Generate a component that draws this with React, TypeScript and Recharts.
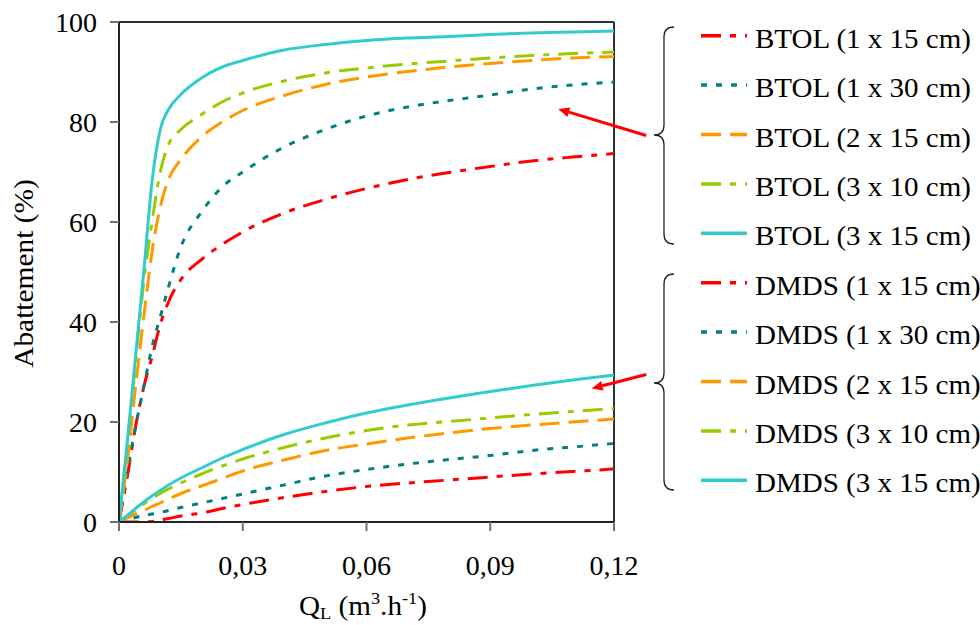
import React from 'react';
import { LineChart, Line, XAxis, YAxis, ReferenceLine } from 'recharts';

// ---- data ----
const qL = [0, 0.002, 0.004, 0.006, 0.008, 0.01, 0.012, 0.015, 0.02, 0.025, 0.03, 0.04, 0.05, 0.06, 0.07, 0.08, 0.09, 0.1, 0.11, 0.12];

const btol1x15 = [0, 9, 19, 27, 33, 39.5, 44, 48.5, 52.5, 55.5, 58, 61.8, 64.5, 66.7, 68.5, 69.9, 71.1, 72.2, 73, 73.7];
const btol1x30 = [0, 10, 19, 27, 35, 41, 47, 55, 62, 67, 70, 75, 78.5, 81.2, 83, 84.3, 85.4, 86.6, 87.4, 88];
const btol2x15 = [0, 12, 27, 41, 54, 63, 68.5, 72.5, 77, 80, 82.3, 85.3, 87.5, 89, 90.1, 91, 91.7, 92.3, 92.8, 93.1];
const btol3x10 = [0, 15, 32, 48, 60, 70, 75.5, 78.5, 81.5, 84, 85.8, 88.2, 89.8, 90.8, 91.6, 92.2, 92.8, 93.3, 93.7, 94];
const btol3x15 = [0, 16, 33, 50, 68, 78.5, 82.5, 85.5, 88.8, 91, 92.3, 94.4, 95.5, 96.3, 96.8, 97.1, 97.5, 97.8, 98, 98.2];

const dmds1x15 = [0, 0, 0, 0, 0.1, 0.4, 0.7, 1.2, 1.8, 2.7, 3.5, 4.9, 6.1, 7.1, 7.8, 8.4, 9, 9.6, 10.1, 10.6];
const dmds1x30 = [0, 0.5, 0.9, 1.3, 1.6, 1.9, 2.3, 2.9, 3.8, 4.7, 5.6, 7.4, 9.2, 10.5, 11.6, 12.5, 13.3, 14.3, 15, 15.7];
const dmds2x15 = [0, 0.8, 1.6, 2.3, 3.1, 3.8, 4.6, 5.7, 7.2, 8.7, 10.2, 12.4, 14.3, 15.6, 16.8, 17.8, 18.7, 19.4, 20, 20.6];
const dmds3x10 = [0, 1.2, 2.4, 3.6, 4.7, 5.7, 6.6, 7.8, 9.6, 11.2, 12.6, 14.9, 16.8, 18.3, 19.4, 20.1, 20.8, 21.5, 22.1, 22.7];
const dmds3x15 = [0, 1.3, 2.7, 4, 5.2, 6.3, 7.4, 8.8, 10.8, 12.8, 14.5, 17.5, 19.8, 21.8, 23.4, 24.8, 26.1, 27.3, 28.4, 29.4];

const seriesNames = [
  'BTOL (1 x 15 cm)',
  'BTOL (1 x 30 cm)',
  'BTOL (2 x 15 cm)',
  'BTOL (3 x 10 cm)',
  'BTOL (3 x 15 cm)',
  'DMDS (1 x 15 cm)',
  'DMDS (1 x 30 cm)',
  'DMDS (2 x 15 cm)',
  'DMDS (3 x 10 cm)',
  'DMDS (3 x 15 cm)',
];
const seriesValues = [btol1x15, btol1x30, btol2x15, btol3x10, btol3x15, dmds1x15, dmds1x30, dmds2x15, dmds3x10, dmds3x15];

const xTicks = [0, 0.03, 0.06, 0.09, 0.12];
const yTicks = [0, 20, 40, 60, 80, 100];

// annotation arrows (data coordinates: [tail, tip])
const arrowBTOL = [{ x: 0.1278, y: 77.3 }, { x: 0.1065, y: 82.6 }];
const arrowDMDS = [{ x: 0.1278, y: 29.5 }, { x: 0.1146, y: 26.7 }];

// ---- styles ----
const styleByConfig = [
  { color: '#FF0000', dash: '20 9 6 9' },
  { color: '#008080', dash: '6 9' },
  { color: '#FF9900', dash: '20 9' },
  { color: '#99CC00', dash: '20 9 6 9' },
  { color: '#33CCCC', dash: undefined as string | undefined },
];

const FONT = 'Liberation Serif, Times New Roman, Tinos, serif';

const data = qL.map((q, i) => {
  const row: any = { q };
  seriesValues.forEach((vals, s) => {
    row['s' + s] = vals[i];
  });
  return row;
});

const ArrowShape = (props: any) => {
  const { x1, y1, x2, y2 } = props;
  if (x1 == null || y1 == null || x2 == null || y2 == null) return null;
  const dx = x2 - x1;
  const dy = y2 - y1;
  const len = Math.hypot(dx, dy) || 1;
  const ux = dx / len;
  const uy = dy / len;
  const headLen = 11;
  const headW = 5;
  const bx = x2 - ux * headLen;
  const by = y2 - uy * headLen;
  const px = -uy;
  const py = ux;
  return (
    <g>
      <line x1={x1} y1={y1} x2={bx} y2={by} stroke="#FF0000" strokeWidth={3} />
      <polygon
        points={`${x2},${y2} ${bx + px * headW},${by + py * headW} ${bx - px * headW},${by - py * headW}`}
        fill="#FF0000"
      />
    </g>
  );
};

const legendLineY = (i: number) => 35.7 + 49.4 * i;

export default function App() {
  return (
    <div style={{ position: 'absolute', left: 0, top: 0, width: 980, height: 625, background: '#fff', fontFamily: FONT }}>
      <LineChart
        width={980}
        height={625}
        data={data}
        margin={{ top: 22, right: 366, bottom: 0, left: 0 }}
        style={{ fontFamily: FONT }}
      >
        <XAxis
          dataKey="q"
          type="number"
          domain={[0, 0.12]}
          ticks={xTicks}
          interval={0}
          allowDataOverflow
          height={103}
          tickSize={9}
          tickMargin={24}
          tickFormatter={(v: number) => String(v).replace('.', ',')}
          axisLine={{ stroke: '#222', strokeWidth: 2 }}
          tickLine={{ stroke: '#707070', strokeWidth: 2 }}
          tick={{ fill: '#000', fontSize: 28, fontFamily: FONT, style: { fontFamily: FONT } }}
        />
        <YAxis
          type="number"
          domain={[0, 100]}
          ticks={yTicks}
          interval={0}
          allowDataOverflow
          width={119}
          tickSize={9}
          tickMargin={13}
          axisLine={{ stroke: '#222', strokeWidth: 2 }}
          tickLine={{ stroke: '#707070', strokeWidth: 2 }}
          tick={{ fill: '#000', fontSize: 28, fontFamily: FONT, style: { fontFamily: FONT } }}
        />
        <ReferenceLine y={100} stroke="#333" strokeWidth={2} />
        <ReferenceLine x={0.12} stroke="#333" strokeWidth={2} />
        {seriesNames.map((name, s) => {
          const st = styleByConfig[s % 5];
          return (
            <Line
              key={name}
              name={name}
              dataKey={'s' + s}
              type="monotone"
              stroke={st.color}
              strokeWidth={3}
              strokeDasharray={st.dash}
              dot={false}
              activeDot={false}
              isAnimationActive={false}
            />
          );
        })}
        <ReferenceLine segment={arrowBTOL} ifOverflow="visible" shape={ArrowShape} />
        <ReferenceLine segment={arrowDMDS} ifOverflow="visible" shape={ArrowShape} />
      </LineChart>
      <svg
        width={980}
        height={625}
        style={{ position: 'absolute', left: 0, top: 0, pointerEvents: 'none', fontFamily: FONT }}
      >
        {/* axis titles */}
        <text
          transform="translate(33,273.5) rotate(-90) scale(1.09,1)"
          textAnchor="middle"
          fontSize={27}
          fill="#000"
          style={{ fontFamily: FONT }}
        >
          Abattement (%)
        </text>
        <text transform="translate(363,615) scale(1.08,1)" textAnchor="middle" fontSize={27} fill="#000" style={{ fontFamily: FONT }}>
          Q<tspan dy={4} fontSize={17}>L</tspan>
          <tspan dy={-4}> (m</tspan>
          <tspan dy={-11} fontSize={17}>3</tspan>
          <tspan dy={11}>.h</tspan>
          <tspan dy={-11} fontSize={17}>-1</tspan>
          <tspan dy={11}>)</tspan>
        </text>
        {/* braces */}
        <path
          d="M674,27 Q664,27 664,37 L664,125 Q664,135 654,135 Q664,135 664,145 L664,234 Q664,244 674,244"
          fill="none"
          stroke="#222"
          strokeWidth={1.3}
        />
        <path
          d="M674,274 Q664,274 664,284 L664,373 Q664,383 654,383 Q664,383 664,393 L664,480 Q664,490 674,490"
          fill="none"
          stroke="#222"
          strokeWidth={1.3}
        />
        {/* legend */}
        {seriesNames.map((name, s) => {
          const st = styleByConfig[s % 5];
          const y = legendLineY(s);
          return (
            <g key={name}>
              <line x1={701} y1={y} x2={747} y2={y} stroke={st.color} strokeWidth={3.5} strokeDasharray={st.dash} />
              <text
                transform={`translate(755,${y + 12}) scale(1.075,1)`}
                fontSize={27}
                fill="#000"
                style={{ fontFamily: FONT }}
              >
                {name}
              </text>
            </g>
          );
        })}
      </svg>
    </div>
  );
}
